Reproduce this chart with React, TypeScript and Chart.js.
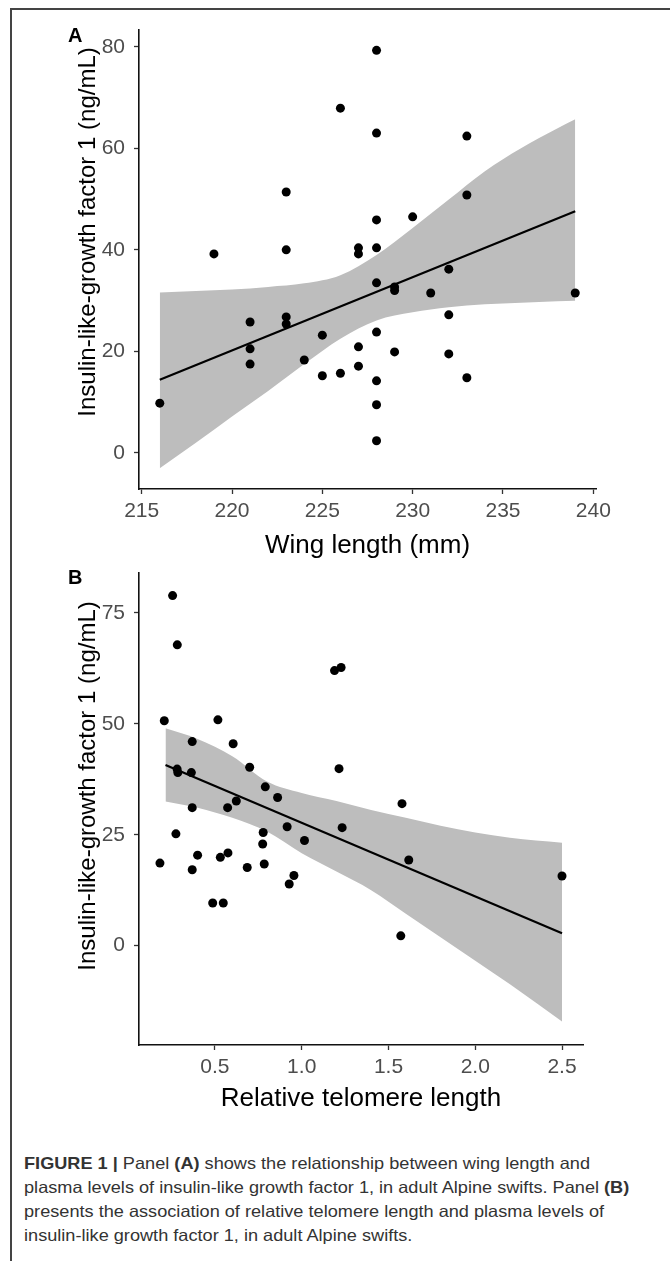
import React, { useEffect, useRef } from "react";
import { Chart, registerables } from "chart.js";
Chart.register(...registerables);

// ---------- Panel A: wing length vs IGF-1 ----------
const A_X = [216, 219, 221, 221, 221, 223, 223, 223, 223, 224, 225, 225, 226, 226, 227, 227, 227, 227, 228, 228, 228, 228, 228, 228, 228, 228, 228, 229, 229, 229, 230, 231, 232, 232, 232, 233, 233, 233, 239];
const A_Y = [9.8, 39.2, 25.8, 20.5, 17.5, 51.4, 40.0, 26.8, 25.4, 18.3, 23.2, 15.2, 67.9, 15.7, 40.4, 39.2, 20.9, 17.1, 79.3, 63.0, 45.9, 40.4, 33.5, 23.8, 14.2, 9.5, 2.4, 32.7, 32.0, 19.9, 46.5, 31.5, 36.2, 27.2, 19.5, 62.4, 50.8, 14.8, 31.5];
const A_LINE_X = [216, 239];
const A_LINE_Y = [14.4, 47.6];
const A_BAND_X = [216, 218, 220, 222, 224, 226, 228, 230, 232, 234, 236, 238, 239];
const A_BAND_UP = [31.6, 31.9, 32.2, 32.7, 33.4, 35.0, 39.0, 44.3, 49.9, 55.5, 60.0, 63.9, 65.7];
const A_BAND_LO = [-3.0, 2.0, 7.2, 12.2, 17.5, 22.5, 26.1, 27.7, 28.7, 29.3, 29.6, 29.9, 30.0];
const A_XTICKS = [215, 220, 225, 230, 235, 240];
const A_YTICKS = [0, 20, 40, 60, 80];

// ---------- Panel B: relative telomere length vs IGF-1 ----------
const B_X = [0.256, 0.283, 0.208, 0.517, 0.369, 0.605, 1.189, 1.227, 0.282, 0.286, 0.364, 0.700, 1.215, 0.790, 0.861, 0.369, 0.573, 0.623, 0.275, 0.778, 0.775, 0.916, 1.016, 1.233, 0.183, 0.400, 0.369, 0.531, 0.575, 0.686, 0.784, 0.928, 0.955, 0.487, 0.548, 1.578, 1.617, 2.500, 1.571];
const B_Y = [78.9, 67.8, 50.7, 50.9, 46.0, 45.5, 62.0, 62.7, 39.8, 39.0, 39.0, 40.2, 39.9, 35.8, 33.4, 31.1, 31.1, 32.6, 25.2, 25.5, 22.9, 26.8, 23.7, 26.6, 18.6, 20.4, 17.1, 19.9, 20.9, 17.6, 18.4, 13.9, 15.8, 9.6, 9.6, 32.0, 19.3, 15.7, 2.2];
const B_LINE_X = [0.215, 2.5];
const B_LINE_Y = [40.7, 2.8];
const B_BAND_X = [0.215, 0.4, 0.6, 0.8, 1.0, 1.2, 1.4, 1.6, 1.8, 2.0, 2.2, 2.5];
const B_BAND_UP = [49.0, 46.6, 42.7, 37.0, 34.4, 32.6, 30.6, 28.8, 27.0, 25.5, 24.3, 23.2];
const B_BAND_LO = [32.5, 31.1, 28.8, 25.7, 20.8, 16.7, 12.5, 7.2, 1.9, -3.4, -8.7, -17.1];
const B_XTICKS = [0.5, 1.0, 1.5, 2.0, 2.5];
const B_YTICKS = [0, 25, 50, 75];

const Y_TITLE = "Insulin-like-growth factor 1 (ng/mL)";
const A_X_TITLE = "Wing length (mm)";
const B_X_TITLE = "Relative telomere length";

const FAMILY = '"Liberation Sans", Arial, Helvetica, sans-serif';

const zip = (xs: number[], ys: number[]) => xs.map((x, i) => ({ x, y: ys[i] }));

type PanelCfg = {
  xs: number[]; ys: number[];
  lineX: number[]; lineY: number[];
  bandX: number[]; bandUp: number[]; bandLo: number[];
  xTicks: number[]; yTicks: number[];
  xMin: number; xMax: number; yMin: number; yMax: number;
  xFmt: (v: number) => string;
  padding: { left: number; right: number; top: number; bottom: number };
  xTitle: string; xTitlePos: [number, number];
  yTitlePos: [number, number];
  letter: string; letterPos: [number, number];
};

function annotPlugin(cfg: PanelCfg) {
  return {
    id: "annot" + cfg.letter,
    afterDraw(chart: any) {
      const ctx = chart.ctx;
      ctx.save();
      ctx.fillStyle = "#000";
      ctx.textAlign = "center";
      ctx.textBaseline = "middle";
      ctx.font = `26px ${FAMILY}`;
      ctx.fillText(cfg.xTitle, cfg.xTitlePos[0], cfg.xTitlePos[1]);
      ctx.save();
      ctx.translate(cfg.yTitlePos[0], cfg.yTitlePos[1]);
      ctx.rotate(-Math.PI / 2);
      ctx.font = `24px ${FAMILY}`;
      ctx.fillText(Y_TITLE, 0, 0);
      ctx.restore();
      ctx.textAlign = "left";
      ctx.textBaseline = "alphabetic";
      ctx.font = `bold 20px ${FAMILY}`;
      ctx.fillText(cfg.letter, cfg.letterPos[0], cfg.letterPos[1]);
      ctx.restore();
    },
  };
}

function axis(min: number, max: number, ticks: number[], fmt: (v: number) => string, isX: boolean) {
  return {
    type: "linear",
    min,
    max,
    afterBuildTicks: (s: any) => {
      s.ticks = ticks.map((v) => ({ value: v }));
    },
    afterFit: (s: any) => {
      if (isX) s.height = 60;
      else s.width = 60;
    },
    grid: {
      display: true,
      drawOnChartArea: false,
      drawTicks: true,
      tickLength: 5,
      tickColor: "#333",
      tickWidth: 1.3,
    },
    border: { display: true, color: "#111", width: 1.6 },
    ticks: {
      color: "#4d4d4d",
      font: { family: FAMILY, size: 21 },
      padding: isX ? 5 : 9,
      maxRotation: 0,
      autoSkip: false,
      callback: (v: any) => fmt(Number(v)),
    },
    title: { display: false },
  };
}

function Panel({ cfg, top }: { cfg: PanelCfg; top: number }) {
  const ref = useRef<HTMLCanvasElement | null>(null);
  useEffect(() => {
    if (!ref.current) return;
    const chart = new Chart(ref.current, {
      type: "scatter",
      data: {
        datasets: [
          {
            type: "scatter",
            data: zip(cfg.xs, cfg.ys),
            pointRadius: 4.5,
            pointBackgroundColor: "#000",
            pointBorderColor: "#000",
            pointBorderWidth: 0,
            showLine: false,
          },
          {
            type: "line",
            data: zip(cfg.lineX, cfg.lineY),
            borderColor: "#000",
            borderWidth: 2.2,
            pointRadius: 0,
            fill: false,
            tension: 0,
          },
          {
            type: "line",
            data: zip(cfg.bandX, cfg.bandUp),
            borderColor: "rgba(0,0,0,0)",
            borderWidth: 0,
            backgroundColor: "#bdbdbd",
            pointRadius: 0,
            fill: "+1",
            cubicInterpolationMode: "monotone",
          },
          {
            type: "line",
            data: zip(cfg.bandX, cfg.bandLo),
            borderColor: "rgba(0,0,0,0)",
            borderWidth: 0,
            pointRadius: 0,
            fill: false,
            cubicInterpolationMode: "monotone",
          },
        ],
      } as any,
      options: {
        animation: false,
        responsive: true,
        maintainAspectRatio: false,
        events: [],
        layout: { padding: cfg.padding },
        plugins: { legend: { display: false }, tooltip: { enabled: false } },
        scales: {
          x: axis(cfg.xMin, cfg.xMax, cfg.xTicks, cfg.xFmt, true),
          y: axis(cfg.yMin, cfg.yMax, cfg.yTicks, (v) => String(v), false),
        } as any,
      },
      plugins: [annotPlugin(cfg)],
    });
    return () => chart.destroy();
  }, []);
  return (
    <div style={{ position: "absolute", left: 0, top, width: 670, height: 600 }}>
      <canvas ref={ref} />
    </div>
  );
}

const PANEL_A: PanelCfg = {
  xs: A_X, ys: A_Y, lineX: A_LINE_X, lineY: A_LINE_Y,
  bandX: A_BAND_X, bandUp: A_BAND_UP, bandLo: A_BAND_LO,
  xTicks: A_XTICKS, yTicks: A_YTICKS,
  xMin: 214.85, xMax: 240.15, yMin: -7.1, yMax: 83.3,
  xFmt: (v) => String(v),
  padding: { left: 79, right: 74, top: 30, bottom: 51 },
  xTitle: A_X_TITLE, xTitlePos: [367.5, 546],
  yTitlePos: [88, 232],
  letter: "A", letterPos: [68, 42],
};

const PANEL_B: PanelCfg = {
  xs: B_X, ys: B_Y, lineX: B_LINE_X, lineY: B_LINE_Y,
  bandX: B_BAND_X, bandUp: B_BAND_UP, bandLo: B_BAND_LO,
  xTicks: B_XTICKS, yTicks: B_YTICKS,
  xMin: 0.0623, xMax: 2.621, yMin: -22.4, yMax: 84.0,
  xFmt: (v) => v.toFixed(1),
  padding: { left: 79, right: 87, top: 33, bottom: 35 },
  xTitle: B_X_TITLE, xTitlePos: [361, 559],
  yTitlePos: [88, 246],
  letter: "B", letterPos: [68, 44],
};

export default function App() {
  return (
    <div
      style={{
        position: "absolute",
        left: 0,
        top: 0,
        width: 670,
        height: 1261,
        overflow: "hidden",
        background: "#fff",
      }}
    >
      <div
        style={{
          position: "absolute",
          left: 10,
          top: 8,
          width: 700,
          height: 1300,
          borderLeft: "2px solid #444",
          borderTop: "2px solid #444",
        }}
      />
      <Panel cfg={PANEL_A} top={0} />
      <Panel cfg={PANEL_B} top={540} />
      <div
        style={{
          position: "absolute",
          left: 24,
          top: 1151,
          fontFamily: FAMILY,
          fontSize: 16.5,
          lineHeight: "24px",
          color: "#333",
          whiteSpace: "nowrap",
          transform: "scaleX(1.1)",
          transformOrigin: "left top",
        }}
      >
        <b>FIGURE 1 |</b> Panel <b>(A)</b> shows the relationship between wing length and
        <br />
        plasma levels of insulin-like growth factor 1, in adult Alpine swifts. Panel <b>(B)</b>
        <br />
        presents the association of relative telomere length and plasma levels of
        <br />
        insulin-like growth factor 1, in adult Alpine swifts.
      </div>
    </div>
  );
}
